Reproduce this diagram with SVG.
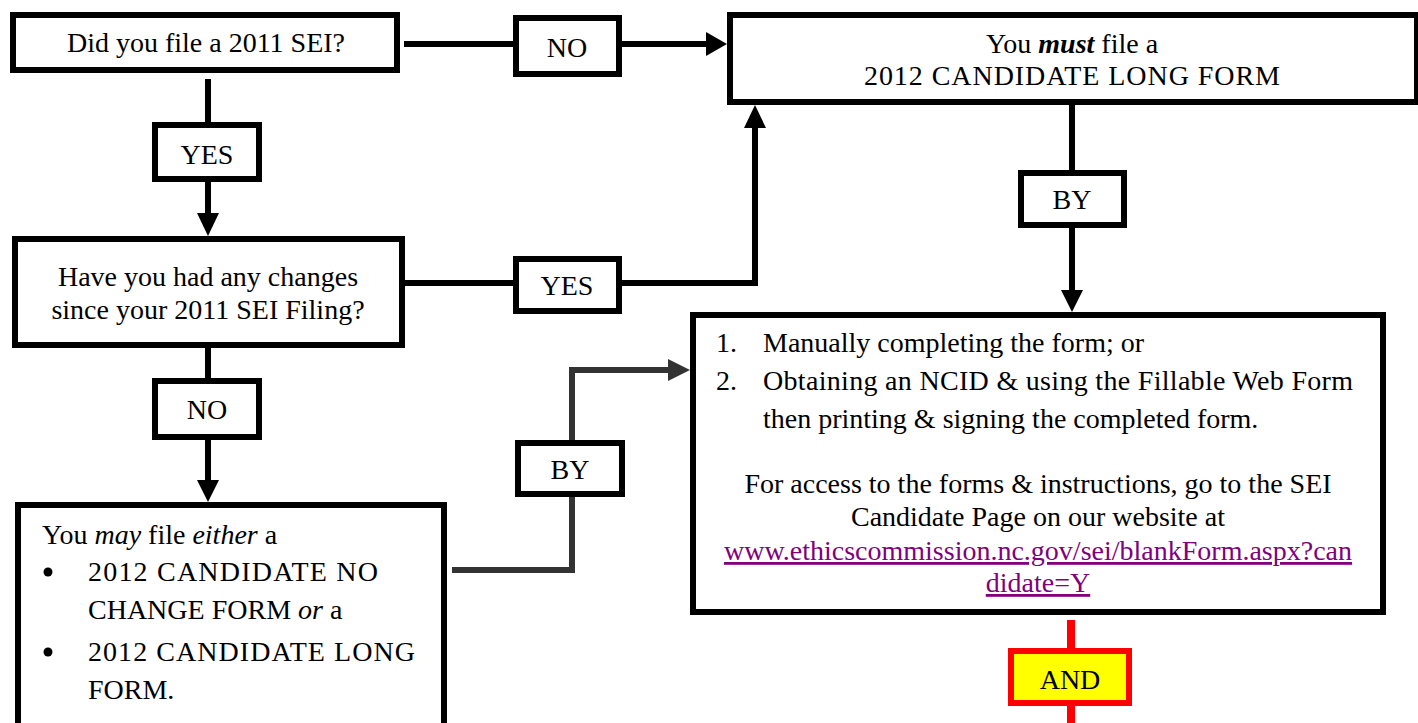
<svg xmlns="http://www.w3.org/2000/svg" width="1418" height="723" viewBox="0 0 1418 723">
<style>
  .box { fill: #ffffff; stroke: #000000; stroke-width: 6; }
  .lbl { fill: #ffffff; stroke: #000000; stroke-width: 6; }
  .and { fill: #ffff00; stroke: #ff0000; stroke-width: 6; }
  text { font-size: 28px; fill: #000000; }
  .c { text-anchor: middle; }
  .link { fill: #800080; text-decoration: underline; }
  .ln { fill: none; stroke: #000000; stroke-width: 6; }
  .ln2 { fill: none; stroke: #333333; stroke-width: 6; }
  .red { fill: none; stroke: #ff0000; stroke-width: 8; }
  .ah { fill: #000000; }
  .ah2 { fill: #333333; }
</style>
<rect width="1418" height="723" fill="#ffffff"/>
<g id="connectors">
  <line class="ln" x1="404" y1="44" x2="516" y2="44"/>
  <line class="ln" x1="619" y1="44" x2="708" y2="44"/>
  <polygon class="ah" points="706,32 727,44 706,56"/>
  <line class="ln" x1="208" y1="79" x2="208" y2="125"/>
  <line class="ln" x1="208" y1="179" x2="208" y2="215"/>
  <polygon class="ah" points="197,213 208,236 219,213"/>
  <line class="ln" x1="405" y1="283" x2="516" y2="283"/>
  <polyline class="ln" points="619,283 755,283 755,126"/>
  <polygon class="ah" points="744,128 755,105 766,128"/>
  <line class="ln" x1="1072" y1="105" x2="1072" y2="173"/>
  <line class="ln" x1="1072" y1="225" x2="1072" y2="292"/>
  <polygon class="ah" points="1061,290 1072,312 1083,290"/>
  <line class="ln" x1="208" y1="348" x2="208" y2="381"/>
  <line class="ln" x1="208" y1="437" x2="208" y2="482"/>
  <polygon class="ah" points="197,480 208,502 219,480"/>
  <polyline class="ln2" points="452,570 572,570 572,494"/>
  <polyline class="ln2" points="572,443 572,370 670,370"/>
  <polygon class="ah2" points="668,359 690,370 668,381"/>
  <line class="red" x1="1071" y1="620" x2="1071" y2="651"/>
  <line class="red" x1="1071" y1="703" x2="1071" y2="723"/>
</g>
<g font-family="'Liberation Serif', serif">
<g id="q1">
  <rect class="box" x="13" y="15" width="384" height="55"/>
  <text class="c" x="206" y="52">Did you file a 2011 SEI?</text>
</g>
<g id="lbl-no1">
  <rect class="lbl" x="516" y="18" width="103" height="56"/>
  <text class="c" x="567" y="57">NO</text>
</g>
<g id="must-long">
  <rect class="box" x="730" y="15" width="687" height="87"/>
  <text class="c" x="1072" y="53">You <tspan font-weight="bold" font-style="italic">must</tspan> file a</text>
  <text class="c" x="1072" y="85" textLength="416" lengthAdjust="spacing">2012 CANDIDATE LONG FORM</text>
</g>
<g id="lbl-yes1">
  <rect class="lbl" x="155" y="125" width="104" height="54"/>
  <text class="c" x="207" y="164">YES</text>
</g>
<g id="q2">
  <rect class="box" x="15" y="239" width="387" height="106"/>
  <text class="c" x="208" y="286">Have you had any changes</text>
  <text class="c" x="208" y="319">since your 2011 SEI Filing?</text>
</g>
<g id="lbl-yes2">
  <rect class="lbl" x="516" y="259" width="103" height="52"/>
  <text class="c" x="567" y="295">YES</text>
</g>
<g id="lbl-by1">
  <rect class="lbl" x="1021" y="173" width="103" height="52"/>
  <text class="c" x="1072" y="209">BY</text>
</g>
<g id="methods">
  <rect class="box" x="693" y="315" width="690" height="297"/>
  <text x="716" y="352">1.</text>
  <text x="763" y="352">Manually completing the form; or</text>
  <text x="716" y="390">2.</text>
  <text x="763" y="390" textLength="590" lengthAdjust="spacing">Obtaining an NCID &amp; using the Fillable Web Form</text>
  <text x="763" y="428">then printing &amp; signing the completed form.</text>
  <text class="c" x="1038" y="493">For access to the forms &amp; instructions, go to the SEI</text>
  <text class="c" x="1038" y="526">Candidate Page on our website at</text>
  <text class="c link" x="1038" y="560">www.ethicscommission.nc.gov/sei/blankForm.aspx?can</text>
  <text class="c link" x="1038" y="592">didate=Y</text>
</g>
<g id="lbl-no2">
  <rect class="lbl" x="155" y="381" width="104" height="56"/>
  <text class="c" x="207" y="419">NO</text>
</g>
<g id="may-file">
  <rect class="box" x="18" y="505" width="426" height="230"/>
  <text x="42" y="544">You <tspan font-style="italic">may</tspan> file <tspan font-style="italic">either</tspan> a</text>
  <circle cx="48" cy="572" r="4.5" fill="#000000"/>
  <text x="88" y="581" textLength="290" lengthAdjust="spacing">2012 CANDIDATE NO</text>
  <text x="88" y="619">CHANGE FORM <tspan font-style="italic">or</tspan> a</text>
  <circle cx="48" cy="652" r="4.5" fill="#000000"/>
  <text x="88" y="661" textLength="327" lengthAdjust="spacing">2012 CANDIDATE LONG</text>
  <text x="88" y="699">FORM.</text>
</g>
<g id="lbl-by2">
  <rect class="lbl" x="518" y="443" width="104" height="51"/>
  <text class="c" x="570" y="479">BY</text>
</g>
<g id="lbl-and">
  <rect class="and" x="1011" y="651" width="118" height="52"/>
  <text class="c" x="1070" y="689">AND</text>
</g>
</g>
</svg>
